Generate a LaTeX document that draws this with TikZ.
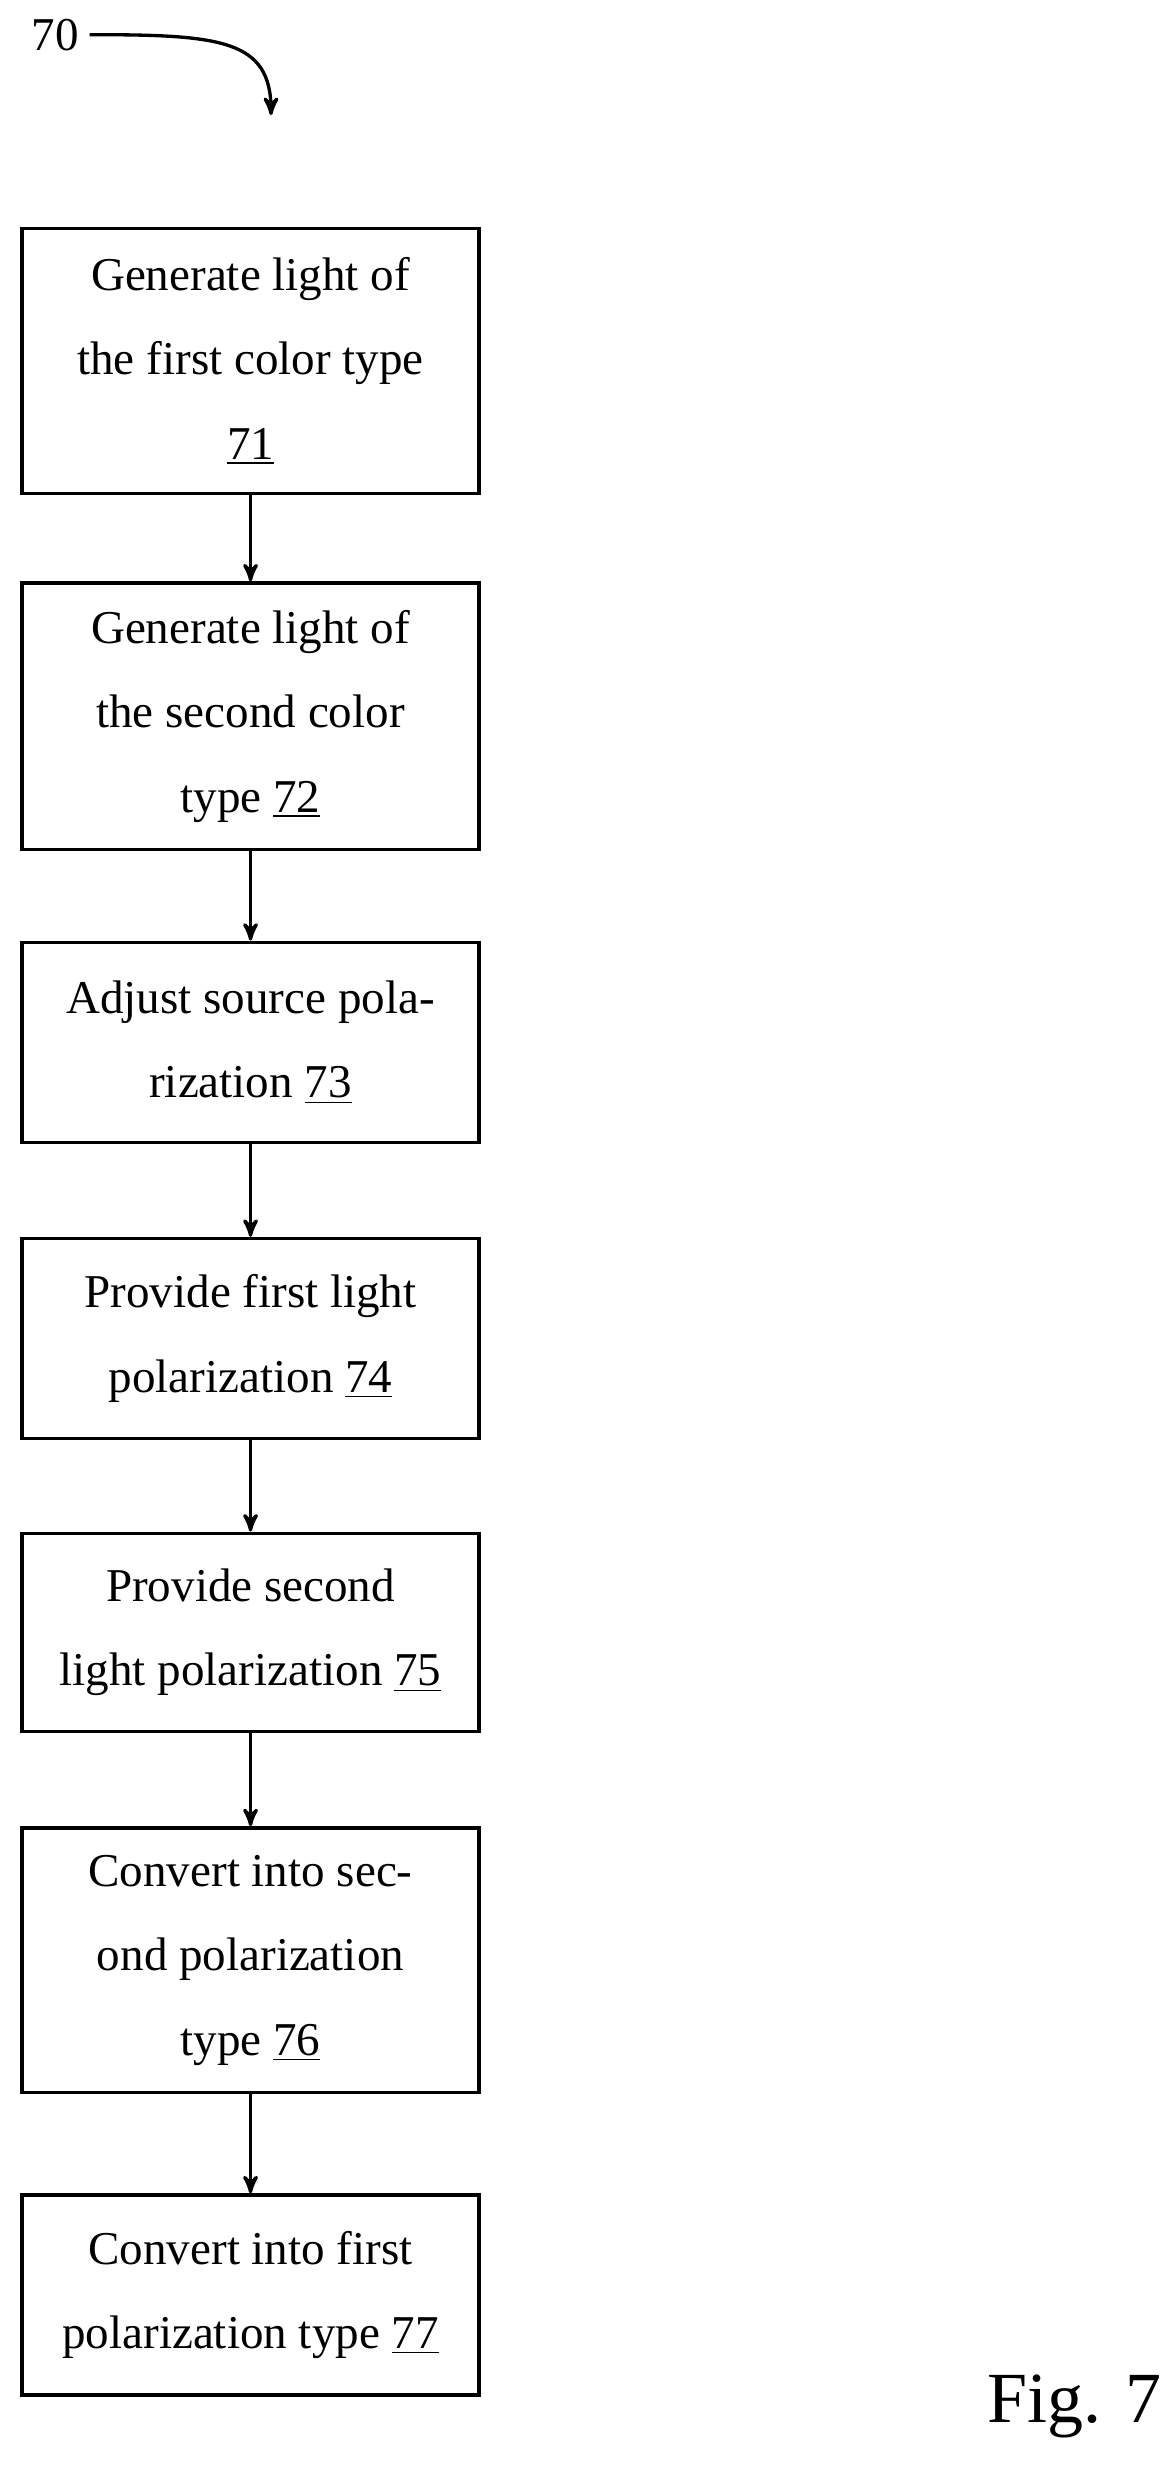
\documentclass[tikz,border=0pt]{standalone}
\usepackage{fontspec}
\setmainfont{Liberation Serif}
\usetikzlibrary{arrows}
\begin{document}
\begin{tikzpicture}[x=0.02cm,y=-0.02cm,>=stealth',line width=1.2pt]
  \tikzstyle{box}=[rectangle,draw,line width=1.2pt,minimum width=5.8cm,align=center,
                   font=\fontsize{17}{30.5}\selectfont]
  \useasboundingbox (0,0) rectangle (745,1572);

  \node [box,minimum height=3.36cm] (s71) at (159,229) {Generate light of\\the first color type\\\underline{71}};
  \node [box,minimum height=3.38cm] (s72) at (159,454.5) {Generate light of\\the second color\\type \underline{72}};
  \node [box,minimum height=2.54cm] (s73) at (159,661.5) {Adjust source pola-\\rization \underline{73}};
  \node [box,minimum height=2.54cm] (s74) at (159,849.5) {Provide first light\\polarization \underline{74}};
  \node [box,minimum height=2.52cm] (s75) at (159,1036) {Provide second\\light polarization \underline{75}};
  \node [box,minimum height=3.36cm] (s76) at (159,1244) {Convert into sec-\\ond polarization\\type \underline{76}};
  \node [box,minimum height=2.54cm] (s77) at (159,1456.5) {Convert into first\\polarization type \underline{77}};

  \foreach \a/\b in {s71/s72,s72/s73,s73/s74,s74/s75,s75/s76,s76/s77}
    \draw [->] (\a) -- (\b);

  \node [font=\fontsize{17}{18}\selectfont] (l70) at (35,22) {70};
  \coordinate (tip) at (172,73);
  \draw [->] (l70.east) .. controls (140,22) and (172,25) .. (tip);

  \node [font=\fontsize{26}{28}\selectfont] (fig) at (682,1527) {Fig. 7};
\end{tikzpicture}
\end{document}
